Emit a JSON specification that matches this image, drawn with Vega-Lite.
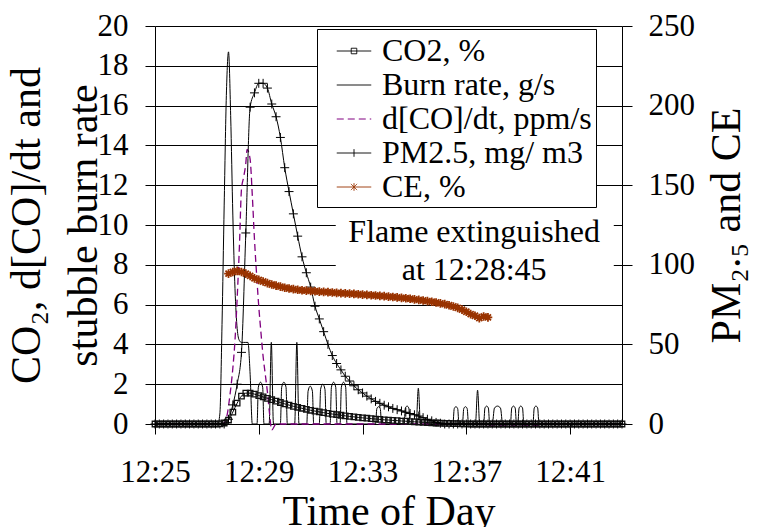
{
  "$schema": "https://vega.github.io/schema/vega-lite/v6.json",
  "width": 467,
  "height": 398,
  "autosize": {"type": "none"},
  "padding": {"left": 155, "top": 26, "right": 136, "bottom": 103},
  "config": {
    "view": {"stroke": null},
    "font": "Liberation Serif",
    "axis": {
      "labelFont": "Liberation Serif", "titleFont": "Liberation Serif",
      "labelColor": "black", "titleColor": "black",
      "domainColor": "black", "tickColor": "black",
      "domainWidth": 1, "tickWidth": 1, "titleFontWeight": "normal",
      "labelFontSize": 31, "titleFontSize": 42, "tickSize": 10,
      "labelOverlap": false, "labelFlush": false
    }
  },
  "encoding": {
    "x": {
      "field": "t", "type": "temporal",
      "scale": {"domain": [{"year": 1900, "month": 1, "date": 1, "hours": 12, "minutes": 25}, {"year": 1900, "month": 1, "date": 1, "hours": 12, "minutes": 43}], "nice": false},
      "axis": {
        "values": [
          {"year": 1900, "month": 1, "date": 1, "hours": 12, "minutes": 25},
          {"year": 1900, "month": 1, "date": 1, "hours": 12, "minutes": 29},
          {"year": 1900, "month": 1, "date": 1, "hours": 12, "minutes": 33},
          {"year": 1900, "month": 1, "date": 1, "hours": 12, "minutes": 37},
          {"year": 1900, "month": 1, "date": 1, "hours": 12, "minutes": 41}
        ],
        "format": "%H:%M", "grid": false, "labelPadding": 23,
        "title": "Time of Day", "titlePadding": 4
      }
    }
  },
  "layer": [
    {
      "encoding": {
        "y": {
          "field": "v", "type": "quantitative",
          "scale": {"domain": [0, 20], "nice": false},
          "axis": {
            "orient": "left", "values": [0, 2, 4, 6, 8, 10, 12, 14, 16, 18, 20],
            "grid": true, "gridColor": "black", "gridWidth": 1, "gridOpacity": 1,
            "labelPadding": 17,
            "title": ["CO₂, d[CO]/dt and", "stubble burn rate"],
            "titleLineHeight": 57, "titlePadding": -8
          }
        }
      },
      "layer": [
        {
          "data": {"values": [{"t": "12:31:58", "t2": "12:42:41", "v": 10.9, "v2": 6.45}], "format": {"parse": {"t": "date:'%H:%M:%S'", "t2": "date:'%H:%M:%S'"}}},
          "mark": {"type": "rect", "color": "white", "opacity": 1},
          "encoding": {"x2": {"field": "t2"}, "y2": {"field": "v2"}}
        },
        {
          "data": {"values": [
            {"t": "12:25:00", "v": 0}, {"t": "12:27:25", "v": 0}, {"t": "12:27:30", "v": 0.5}, {"t": "12:27:35", "v": 5},
            {"t": "12:27:40", "v": 11}, {"t": "12:27:45", "v": 16.5}, {"t": "12:27:50", "v": 18.7}, {"t": "12:27:55", "v": 15.5},
            {"t": "12:28:00", "v": 10.5}, {"t": "12:28:05", "v": 6.8}, {"t": "12:28:10", "v": 4.8}, {"t": "12:28:15", "v": 4.2},
            {"t": "12:28:20", "v": 4.1}, {"t": "12:28:25", "v": 4.1}, {"t": "12:28:30", "v": 4.1}, {"t": "12:28:35", "v": 4.1},
            {"t": "12:28:40", "v": 2.5}, {"t": "12:28:45", "v": 0},
            {"t": "12:28:56", "v": 0}, {"t": "12:28:59", "v": 1.85}, {"t": "12:29:04", "v": 2.1}, {"t": "12:29:09", "v": 1.85}, {"t": "12:29:12", "v": 0},
            {"t": "12:29:24", "v": 0}, {"t": "12:29:29", "v": 4.1}, {"t": "12:29:34", "v": 0},
            {"t": "12:29:50", "v": 0}, {"t": "12:29:53", "v": 1.85}, {"t": "12:29:58", "v": 2.1}, {"t": "12:30:03", "v": 1.85}, {"t": "12:30:06", "v": 0},
            {"t": "12:30:23", "v": 0}, {"t": "12:30:28", "v": 4.1}, {"t": "12:30:33", "v": 0},
            {"t": "12:30:51", "v": 0}, {"t": "12:30:54", "v": 1.65}, {"t": "12:30:59", "v": 1.9}, {"t": "12:31:04", "v": 1.65}, {"t": "12:31:07", "v": 0},
            {"t": "12:31:20", "v": 0}, {"t": "12:31:23", "v": 1.75}, {"t": "12:31:28", "v": 2.0}, {"t": "12:31:33", "v": 1.75}, {"t": "12:31:36", "v": 0},
            {"t": "12:31:45", "v": 0}, {"t": "12:31:48", "v": 1.85}, {"t": "12:31:53", "v": 2.1}, {"t": "12:31:58", "v": 1.85}, {"t": "12:32:01", "v": 0},
            {"t": "12:32:08", "v": 0}, {"t": "12:32:11", "v": 1.85}, {"t": "12:32:16", "v": 2.1}, {"t": "12:32:21", "v": 1.85}, {"t": "12:32:24", "v": 0},
            {"t": "12:33:30", "v": 0}, {"t": "12:33:33", "v": 0.77}, {"t": "12:33:37", "v": 0.87}, {"t": "12:33:41", "v": 0.77}, {"t": "12:33:44", "v": 0},
            {"t": "12:34:36", "v": 0}, {"t": "12:34:39", "v": 0.8}, {"t": "12:34:43", "v": 0.9}, {"t": "12:34:47", "v": 0.8}, {"t": "12:34:50", "v": 0},
            {"t": "12:35:04", "v": 0}, {"t": "12:35:09", "v": 1.8}, {"t": "12:35:14", "v": 0},
            {"t": "12:36:29", "v": 0}, {"t": "12:36:32", "v": 0.77}, {"t": "12:36:36", "v": 0.87}, {"t": "12:36:40", "v": 0.77}, {"t": "12:36:43", "v": 0},
            {"t": "12:36:51", "v": 0}, {"t": "12:36:54", "v": 0.77}, {"t": "12:36:58", "v": 0.87}, {"t": "12:37:02", "v": 0.77}, {"t": "12:37:05", "v": 0},
            {"t": "12:37:21", "v": 0}, {"t": "12:37:26", "v": 1.7}, {"t": "12:37:31", "v": 0},
            {"t": "12:37:40", "v": 0}, {"t": "12:37:43", "v": 0.8}, {"t": "12:37:47", "v": 0.9}, {"t": "12:37:51", "v": 0.8}, {"t": "12:37:54", "v": 0},
            {"t": "12:38:00", "v": 0}, {"t": "12:38:05", "v": 0.8}, {"t": "12:38:12", "v": 0.9}, {"t": "12:38:19", "v": 0.8}, {"t": "12:38:24", "v": 0},
            {"t": "12:38:42", "v": 0}, {"t": "12:38:45", "v": 0.8}, {"t": "12:38:49", "v": 0.9}, {"t": "12:38:53", "v": 0.8}, {"t": "12:38:56", "v": 0},
            {"t": "12:38:59", "v": 0}, {"t": "12:39:02", "v": 0.8}, {"t": "12:39:06", "v": 0.9}, {"t": "12:39:10", "v": 0.8}, {"t": "12:39:13", "v": 0},
            {"t": "12:39:34", "v": 0}, {"t": "12:39:37", "v": 0.8}, {"t": "12:39:41", "v": 0.9}, {"t": "12:39:45", "v": 0.8}, {"t": "12:39:48", "v": 0},
            {"t": "12:43:00", "v": 0}
          ], "format": {"parse": {"t": "date:'%H:%M:%S'"}}},
          "mark": {"type": "line", "strokeWidth": 1, "interpolate": "monotone"},
          "encoding": {
            "color": {
              "datum": "Burn rate, g/s", "type": "nominal",
              "scale": {"domain": ["CO2, %", "Burn rate, g/s", "d[CO]/dt, ppm/s", "PM2.5, mg/ m3", "CE, %"], "range": ["black", "black", "#800080", "black", "#993300"]},
              "legend": {
                "orient": "none", "legendX": 162, "legendY": 3, "title": null,
                "fillColor": "white", "strokeColor": "black", "padding": 4,
                "labelFont": "Liberation Serif", "labelFontSize": 32, "labelColor": "black", "labelLimit": 500,
                "symbolSize": 1190, "symbolStrokeWidth": 1, "symbolOffset": 15, "labelOffset": 10, "rowPadding": 0,
                "encode": {
                  "symbols": {
                    "update": {
                      "shape": {"signal": "datum.value === 'CO2, %' ? 'M-1,0H1M-0.16,-0.16H0.16V0.16H-0.16Z' : datum.value === 'PM2.5, mg/ m3' ? 'M-1,0H1M0,-0.22V0.22' : datum.value === 'CE, %' ? 'M-1,0H1M0,-0.22V0.22M-0.18,-0.18L0.18,0.18M-0.18,0.18L0.18,-0.18' : 'M-1,0H1'"},
                      "strokeDash": {"signal": "datum.value === 'd[CO]/dt, ppm/s' ? [7, 4] : [1, 0]"},
                      "strokeWidth": {"value": 1}
                    }
                  }
                }
              }
            }
          }
        },
        {
          "data": {"values": [
            {"t": "12:25:00", "v": 0}, {"t": "12:27:35", "v": 0}, {"t": "12:27:42", "v": 0.1}, {"t": "12:27:48", "v": 0.6},
            {"t": "12:27:53", "v": 1.4}, {"t": "12:28:00", "v": 2.8}, {"t": "12:28:05", "v": 4.2}, {"t": "12:28:10", "v": 6.3},
            {"t": "12:28:15", "v": 8.8}, {"t": "12:28:20", "v": 11.8}, {"t": "12:28:25", "v": 12.4}, {"t": "12:28:30", "v": 13.1},
            {"t": "12:28:33", "v": 13.8}, {"t": "12:28:40", "v": 13.3}, {"t": "12:28:45", "v": 11.5}, {"t": "12:28:50", "v": 9.3},
            {"t": "12:28:55", "v": 7.5}, {"t": "12:29:00", "v": 5.9}, {"t": "12:29:05", "v": 4.6}, {"t": "12:29:10", "v": 3.4},
            {"t": "12:29:15", "v": 2.5}, {"t": "12:29:20", "v": 1.6}, {"t": "12:29:25", "v": 0.5}, {"t": "12:29:30", "v": -0.3},
            {"t": "12:29:40", "v": 0}, {"t": "12:31:00", "v": 0}, {"t": "12:33:00", "v": 0}, {"t": "12:35:00", "v": 0},
            {"t": "12:37:30", "v": 0}, {"t": "12:38:00", "v": -0.1}, {"t": "12:39:30", "v": -0.1}, {"t": "12:40:00", "v": 0},
            {"t": "12:43:00", "v": 0}
          ], "format": {"parse": {"t": "date:'%H:%M:%S'"}}},
          "mark": {"type": "line", "strokeWidth": 1.3, "strokeDash": [7, 4], "interpolate": "monotone"},
          "encoding": {"color": {"datum": "d[CO]/dt, ppm/s", "type": "nominal"}}
        },
        {
          "data": {"values": [
            {"t": "12:25:00", "v": 0}, {"t": "12:25:10", "v": 0}, {"t": "12:25:20", "v": 0}, {"t": "12:25:30", "v": 0},
            {"t": "12:25:40", "v": 0}, {"t": "12:25:50", "v": 0}, {"t": "12:26:00", "v": 0}, {"t": "12:26:10", "v": 0},
            {"t": "12:26:20", "v": 0}, {"t": "12:26:30", "v": 0}, {"t": "12:26:40", "v": 0}, {"t": "12:26:50", "v": 0},
            {"t": "12:27:00", "v": 0}, {"t": "12:27:10", "v": 0}, {"t": "12:27:20", "v": 0}, {"t": "12:27:30", "v": 0.01},
            {"t": "12:27:40", "v": 0.05}, {"t": "12:27:50", "v": 0.2}, {"t": "12:28:00", "v": 0.6}, {"t": "12:28:10", "v": 1.05},
            {"t": "12:28:20", "v": 1.4}, {"t": "12:28:30", "v": 1.55}, {"t": "12:28:40", "v": 1.55}, {"t": "12:28:50", "v": 1.5},
            {"t": "12:29:00", "v": 1.43}, {"t": "12:29:10", "v": 1.36}, {"t": "12:29:20", "v": 1.29}, {"t": "12:29:30", "v": 1.22},
            {"t": "12:29:40", "v": 1.15}, {"t": "12:29:50", "v": 1.08}, {"t": "12:30:00", "v": 1.01}, {"t": "12:30:10", "v": 0.95},
            {"t": "12:30:20", "v": 0.89}, {"t": "12:30:30", "v": 0.84}, {"t": "12:30:40", "v": 0.79}, {"t": "12:30:50", "v": 0.74},
            {"t": "12:31:00", "v": 0.69}, {"t": "12:31:10", "v": 0.65}, {"t": "12:31:20", "v": 0.61}, {"t": "12:31:30", "v": 0.57},
            {"t": "12:31:40", "v": 0.53}, {"t": "12:31:50", "v": 0.5}, {"t": "12:32:00", "v": 0.47}, {"t": "12:32:10", "v": 0.44},
            {"t": "12:32:20", "v": 0.41}, {"t": "12:32:30", "v": 0.38}, {"t": "12:32:40", "v": 0.36}, {"t": "12:32:50", "v": 0.33},
            {"t": "12:33:00", "v": 0.31}, {"t": "12:33:10", "v": 0.29}, {"t": "12:33:20", "v": 0.27}, {"t": "12:33:30", "v": 0.25},
            {"t": "12:33:40", "v": 0.23}, {"t": "12:33:50", "v": 0.21}, {"t": "12:34:00", "v": 0.2}, {"t": "12:34:10", "v": 0.18},
            {"t": "12:34:20", "v": 0.17}, {"t": "12:34:30", "v": 0.15}, {"t": "12:34:40", "v": 0.14}, {"t": "12:34:50", "v": 0.12},
            {"t": "12:35:00", "v": 0.11}, {"t": "12:35:10", "v": 0.1}, {"t": "12:35:20", "v": 0.08}, {"t": "12:35:30", "v": 0.07},
            {"t": "12:35:40", "v": 0.06}, {"t": "12:35:50", "v": 0.05}, {"t": "12:36:00", "v": 0.04}, {"t": "12:36:10", "v": 0.03},
            {"t": "12:36:20", "v": 0.03}, {"t": "12:36:30", "v": 0.02}, {"t": "12:36:40", "v": 0.02}, {"t": "12:36:50", "v": 0.01},
            {"t": "12:37:00", "v": 0.01}, {"t": "12:37:10", "v": 0}, {"t": "12:37:20", "v": 0}, {"t": "12:37:30", "v": 0},
            {"t": "12:37:40", "v": 0}, {"t": "12:37:50", "v": 0}, {"t": "12:38:00", "v": 0}, {"t": "12:38:10", "v": 0},
            {"t": "12:38:20", "v": 0}, {"t": "12:38:30", "v": 0}, {"t": "12:38:40", "v": 0}, {"t": "12:38:50", "v": 0},
            {"t": "12:39:00", "v": 0}, {"t": "12:39:10", "v": 0}, {"t": "12:39:20", "v": 0}, {"t": "12:39:30", "v": 0},
            {"t": "12:39:40", "v": 0}, {"t": "12:39:50", "v": 0}, {"t": "12:40:00", "v": 0}, {"t": "12:40:10", "v": 0},
            {"t": "12:40:20", "v": 0}, {"t": "12:40:30", "v": 0}, {"t": "12:40:40", "v": 0}, {"t": "12:40:50", "v": 0},
            {"t": "12:41:00", "v": 0}, {"t": "12:41:10", "v": 0}, {"t": "12:41:20", "v": 0}, {"t": "12:41:30", "v": 0},
            {"t": "12:41:40", "v": 0}, {"t": "12:41:50", "v": 0}, {"t": "12:42:00", "v": 0}, {"t": "12:42:10", "v": 0},
            {"t": "12:42:20", "v": 0}, {"t": "12:42:30", "v": 0}, {"t": "12:42:40", "v": 0}, {"t": "12:42:50", "v": 0},
            {"t": "12:43:00", "v": 0}
          ], "format": {"parse": {"t": "date:'%H:%M:%S'"}}},
          "layer": [
            {
              "mark": {"type": "line", "strokeWidth": 1, "interpolate": "monotone"},
              "encoding": {"color": {"datum": "CO2, %", "type": "nominal"}}
            },
            {
              "mark": {"type": "point", "shape": "square", "size": 30, "filled": false, "color": "#111111", "strokeWidth": 1.3, "opacity": 1}
            }
          ]
        },
        {
          "data": {"values": [{"t": "12:37:18", "v": 9.16, "label": "Flame extinguished\nat 12:28:45"}], "format": {"parse": {"t": "date:'%H:%M:%S'"}}},
          "mark": {"type": "text", "align": "center", "baseline": "alphabetic", "lineBreak": "\n", "lineHeight": 38, "fontSize": 32, "font": "Liberation Serif", "color": "black"},
          "encoding": {"text": {"field": "label", "type": "nominal"}}
        }
      ]
    },
    {
      "encoding": {
        "y": {
          "field": "v", "type": "quantitative",
          "scale": {"domain": [0, 250], "nice": false},
          "axis": {
            "orient": "right", "values": [0, 50, 100, 150, 200, 250], "grid": false,
            "labelPadding": 16, "title": "PM₂.₅ and CE", "titleAngle": 270, "titleBaseline": "top", "titlePadding": 12
          }
        }
      },
      "layer": [
        {
          "data": {"values": [
            {"t": "12:25:00", "v": 0}, {"t": "12:25:10", "v": 0}, {"t": "12:25:20", "v": 0}, {"t": "12:25:30", "v": 0},
            {"t": "12:25:40", "v": 0}, {"t": "12:25:50", "v": 0}, {"t": "12:26:00", "v": 0}, {"t": "12:26:10", "v": 0},
            {"t": "12:26:20", "v": 0}, {"t": "12:26:30", "v": 0}, {"t": "12:26:40", "v": 0}, {"t": "12:26:50", "v": 0},
            {"t": "12:27:00", "v": 0}, {"t": "12:27:10", "v": 0}, {"t": "12:27:20", "v": 0}, {"t": "12:27:30", "v": 0},
            {"t": "12:27:40", "v": 0}, {"t": "12:27:50", "v": 3}, {"t": "12:28:00", "v": 12}, {"t": "12:28:10", "v": 25},
            {"t": "12:28:20", "v": 45}, {"t": "12:28:30", "v": 120}, {"t": "12:28:40", "v": 199}, {"t": "12:28:50", "v": 208},
            {"t": "12:29:00", "v": 214}, {"t": "12:29:10", "v": 214}, {"t": "12:29:20", "v": 211}, {"t": "12:29:30", "v": 201},
            {"t": "12:29:40", "v": 193}, {"t": "12:29:50", "v": 180}, {"t": "12:30:00", "v": 161}, {"t": "12:30:10", "v": 146},
            {"t": "12:30:20", "v": 132}, {"t": "12:30:30", "v": 118}, {"t": "12:30:40", "v": 105}, {"t": "12:30:50", "v": 95},
            {"t": "12:31:00", "v": 86}, {"t": "12:31:10", "v": 74}, {"t": "12:31:20", "v": 66}, {"t": "12:31:30", "v": 58},
            {"t": "12:31:40", "v": 50}, {"t": "12:31:50", "v": 43}, {"t": "12:32:00", "v": 38}, {"t": "12:32:10", "v": 34},
            {"t": "12:32:20", "v": 30}, {"t": "12:32:30", "v": 27}, {"t": "12:32:40", "v": 24}, {"t": "12:32:50", "v": 21.5},
            {"t": "12:33:00", "v": 19.5}, {"t": "12:33:10", "v": 17.5}, {"t": "12:33:20", "v": 15.8}, {"t": "12:33:30", "v": 14.2},
            {"t": "12:33:40", "v": 13}, {"t": "12:33:50", "v": 11.8}, {"t": "12:34:00", "v": 10.8}, {"t": "12:34:10", "v": 9.8},
            {"t": "12:34:20", "v": 9}, {"t": "12:34:30", "v": 8.2}, {"t": "12:34:40", "v": 7.4}, {"t": "12:34:50", "v": 6.6},
            {"t": "12:35:00", "v": 5.8}, {"t": "12:35:10", "v": 5}, {"t": "12:35:20", "v": 4}, {"t": "12:35:30", "v": 3},
            {"t": "12:35:40", "v": 2}, {"t": "12:35:50", "v": 1}, {"t": "12:36:00", "v": 0.5}, {"t": "12:36:10", "v": 0},
            {"t": "12:36:20", "v": 0}, {"t": "12:36:30", "v": 0}, {"t": "12:36:40", "v": 0}, {"t": "12:36:50", "v": 0},
            {"t": "12:37:00", "v": 0}, {"t": "12:37:10", "v": 0}, {"t": "12:37:20", "v": 0}, {"t": "12:37:30", "v": 0},
            {"t": "12:37:40", "v": 0}, {"t": "12:37:50", "v": 0}, {"t": "12:38:00", "v": 0}, {"t": "12:38:10", "v": 0},
            {"t": "12:38:20", "v": 0}, {"t": "12:38:30", "v": 0}, {"t": "12:38:40", "v": 0}, {"t": "12:38:50", "v": 0},
            {"t": "12:39:00", "v": 0}, {"t": "12:39:10", "v": 0}, {"t": "12:39:20", "v": 0}, {"t": "12:39:30", "v": 0},
            {"t": "12:39:40", "v": 0}, {"t": "12:39:50", "v": 0}, {"t": "12:40:00", "v": 0}, {"t": "12:40:10", "v": 0},
            {"t": "12:40:20", "v": 0}, {"t": "12:40:30", "v": 0}, {"t": "12:40:40", "v": 0}, {"t": "12:40:50", "v": 0},
            {"t": "12:41:00", "v": 0}, {"t": "12:41:10", "v": 0}, {"t": "12:41:20", "v": 0}, {"t": "12:41:30", "v": 0},
            {"t": "12:41:40", "v": 0}, {"t": "12:41:50", "v": 0}, {"t": "12:42:00", "v": 0}, {"t": "12:42:10", "v": 0},
            {"t": "12:42:20", "v": 0}, {"t": "12:42:30", "v": 0}, {"t": "12:42:40", "v": 0}, {"t": "12:42:50", "v": 0},
            {"t": "12:43:00", "v": 0}
          ], "format": {"parse": {"t": "date:'%H:%M:%S'"}}},
          "layer": [
            {
              "mark": {"type": "line", "strokeWidth": 1, "interpolate": "monotone"},
              "encoding": {"color": {"datum": "PM2.5, mg/ m3", "type": "nominal"}}
            },
            {
              "mark": {"type": "point", "shape": "M-1,0H1M0,-1V1", "size": 80, "filled": false, "color": "black", "strokeWidth": 1, "opacity": 1}
            }
          ]
        },
        {
          "data": {"values": [
            {"t": "12:27:50", "v": 94.5}, {"t": "12:28:00", "v": 95.5}, {"t": "12:28:10", "v": 96.2}, {"t": "12:28:20", "v": 95.5},
            {"t": "12:28:30", "v": 94.5}, {"t": "12:28:40", "v": 93}, {"t": "12:28:50", "v": 91.5}, {"t": "12:29:00", "v": 90.5},
            {"t": "12:29:10", "v": 89.5}, {"t": "12:29:20", "v": 88.5}, {"t": "12:29:30", "v": 87.6}, {"t": "12:29:40", "v": 86.9},
            {"t": "12:29:50", "v": 86.3}, {"t": "12:30:00", "v": 85.6}, {"t": "12:30:10", "v": 85.1}, {"t": "12:30:20", "v": 84.7},
            {"t": "12:30:30", "v": 84.3}, {"t": "12:30:40", "v": 84}, {"t": "12:30:50", "v": 83.8}, {"t": "12:31:00", "v": 83.6},
            {"t": "12:31:10", "v": 83.4}, {"t": "12:31:20", "v": 83.2}, {"t": "12:31:30", "v": 83}, {"t": "12:31:40", "v": 82.8},
            {"t": "12:31:50", "v": 82.6}, {"t": "12:32:00", "v": 82.4}, {"t": "12:32:10", "v": 82.2}, {"t": "12:32:20", "v": 82.1},
            {"t": "12:32:30", "v": 81.9}, {"t": "12:32:40", "v": 81.7}, {"t": "12:32:50", "v": 81.5}, {"t": "12:33:00", "v": 81.3},
            {"t": "12:33:10", "v": 81.1}, {"t": "12:33:20", "v": 80.9}, {"t": "12:33:30", "v": 80.7}, {"t": "12:33:40", "v": 80.5},
            {"t": "12:33:50", "v": 80.3}, {"t": "12:34:00", "v": 80}, {"t": "12:34:10", "v": 79.8}, {"t": "12:34:20", "v": 79.5},
            {"t": "12:34:30", "v": 79.2}, {"t": "12:34:40", "v": 79}, {"t": "12:34:50", "v": 78.7}, {"t": "12:35:00", "v": 78.3},
            {"t": "12:35:10", "v": 78}, {"t": "12:35:20", "v": 77.6}, {"t": "12:35:30", "v": 77.2}, {"t": "12:35:40", "v": 76.8},
            {"t": "12:35:50", "v": 76.3}, {"t": "12:36:00", "v": 75.8}, {"t": "12:36:10", "v": 75.3}, {"t": "12:36:20", "v": 74.6},
            {"t": "12:36:30", "v": 73.8}, {"t": "12:36:40", "v": 72.9}, {"t": "12:36:50", "v": 71.8}, {"t": "12:37:00", "v": 70.5},
            {"t": "12:37:10", "v": 69}, {"t": "12:37:20", "v": 68}, {"t": "12:37:30", "v": 66.5}, {"t": "12:37:40", "v": 67.5},
            {"t": "12:37:50", "v": 67}
          ], "format": {"parse": {"t": "date:'%H:%M:%S'"}}},
          "layer": [
            {
              "mark": {"type": "line", "strokeWidth": 3, "interpolate": "monotone"},
              "encoding": {"color": {"datum": "CE, %", "type": "nominal"}}
            },
            {
              "mark": {"type": "point", "shape": "M-1,0H1M0,-1V1M-0.7,-0.7L0.7,0.7M-0.7,0.7L0.7,-0.7", "size": 75, "filled": false, "color": "#993300", "strokeWidth": 1.8, "opacity": 1}
            }
          ]
        }
      ]
    }
  ],
  "resolve": {"scale": {"y": "independent"}}
}
